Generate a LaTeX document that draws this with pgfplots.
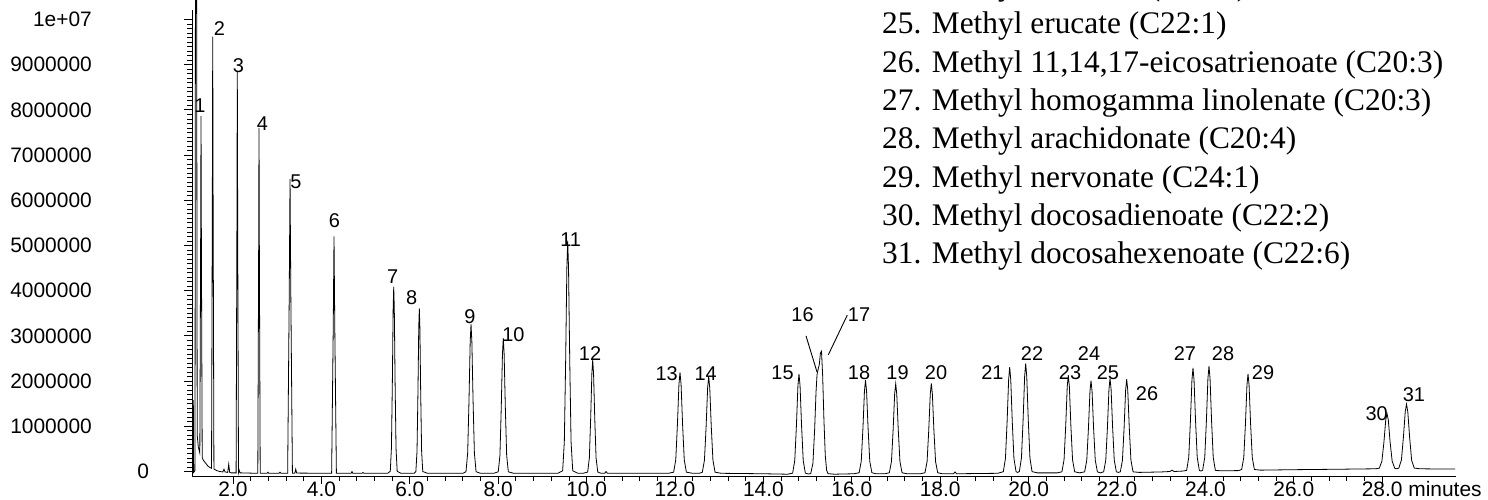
\documentclass[border=0pt]{standalone}
\usepackage{pgfplots}
\pgfplotsset{compat=1.18}
\usepackage{fontspec}
\setmainfont{Liberation Sans}
\newfontfamily\timesfont{Liberation Serif}
\newcommand\tickfont{\fontsize{21}{24}\selectfont}
\newcommand\tl[1]{\mbox{\tickfont #1}}
\newcommand\pkfont{\fontsize{20}{22}\selectfont}
\tikzset{pk/.style={font=\pkfont, inner sep=0pt}}

\begin{document}
\begin{tikzpicture}
\useasboundingbox (0,0) rectangle (1488bp,500bp);
\begin{axis}[
  at={(192bp,24bp)}, anchor=south west,
  scale only axis, width=1264bp, height=466bp,
  xmin=1.072, xmax=29.67,
  ymin=-0.0996, ymax=10.21,
  axis x line*=bottom, axis y line*=left,
  axis line style={line width=0.8bp},
  tick align=outside,
  major tick length=8bp, minor tick length=4.5bp,
  tick style={line width=0.8bp, black},
  xtick={2,4,...,28},
  minor x tick num=4,
  xticklabels={\tl{2.0},\tl{4.0},\tl{6.0},\tl{8.0},\tl{10.0},\tl{12.0},\tl{14.0},\tl{16.0},\tl{18.0},\tl{20.0},\tl{22.0},\tl{24.0},\tl{26.0},\tl{28.0\rlap{ minutes}}},
  ytick={0,1,...,10},
  minor y tick num=9,
  % intensity in millions of counts
  yticklabels={\makebox[0pt][l]{\hspace{46bp}\tl{0}},\tl{1000000},\tl{2000000},\tl{3000000},\tl{4000000},\tl{5000000},\tl{6000000},\tl{7000000},\tl{8000000},\tl{9000000},\tl{1e+07}},
  tick label style={font=\tickfont},
  xticklabel style={anchor=base, inner sep=0pt, yshift=-12.7bp},
  yticklabel style={anchor=east, inner sep=0pt, xshift=-92bp},
  clip=false,
]
\addplot[black, line width=0.8bp, mark=none] coordinates {
(1.075,-0.04)(1.095,-0.04)(1.102,1.58)(1.109,-0.02)(1.14,0.02)
(1.150,11.0)(1.176,11.0)(1.190,0.8)(1.215,0.54)(1.249,0.41)
(1.267,4.93)(1.276,7.86)(1.285,4.90)(1.303,0.31)
(1.328,0.25)(1.441,0.11)(1.514,0.07)
(1.532,5.87)(1.541,9.62)(1.550,5.86)(1.568,0.055)
(1.631,0.02)(1.70,0.0)(1.77,-0.01)(1.796,0.05)(1.82,-0.01)
(1.88,-0.02)(1.903,0.16)(1.925,-0.02)(1.96,-0.03)(2.07,-0.03)
(2.088,5.36)(2.097,8.85)(2.106,5.36)(2.124,-0.03)
(2.14,0.03)(2.16,-0.03)(2.561,-0.04)
(2.579,4.59)(2.588,7.60)(2.597,4.59)(2.615,-0.04)
(2.77,-0.04)(2.792,-0.015)(2.81,-0.04)(3.04,-0.04)(3.063,-0.015)(3.085,-0.04)(3.236,-0.04)
(3.272,3.91)(3.29,6.47)(3.308,3.91)(3.344,-0.04)
(3.40,-0.035)(3.419,0.05)(3.44,-0.035)(4.231,-0.04)
(4.267,3.14)(4.285,5.20)(4.303,3.14)(4.339,-0.04)
(4.67,-0.04)(4.692,0.0)(4.71,-0.04)(4.92,-0.04)(4.941,-0.02)(4.96,-0.04)(5.50,-0.04)
(5.558,0.005)(5.584,0.52)(5.605,1.97)(5.623,3.60)(5.636,4.09)(5.649,3.60)(5.667,1.97)(5.688,0.52)(5.714,0.005)
(5.80,-0.04)(6.10,-0.04)
(6.137,0.0)(6.163,0.45)(6.184,1.74)(6.202,3.18)(6.215,3.61)(6.228,3.18)(6.246,1.74)(6.267,0.45)(6.293,0.0)
(6.40,-0.04)(7.20,-0.04)
(7.271,-0.004)(7.309,0.41)(7.339,1.57)(7.366,2.87)(7.385,3.26)(7.404,2.87)(7.431,1.57)(7.461,0.41)(7.499,-0.004)
(7.60,-0.04)(7.90,-0.04)
(8.001,-0.007)(8.039,0.36)(8.069,1.42)(8.096,2.60)(8.115,2.95)(8.134,2.60)(8.161,1.42)(8.191,0.36)(8.229,-0.007)
(8.35,-0.04)(9.35,-0.04)
(9.458,0.017)(9.496,0.66)(9.526,2.47)(9.553,4.50)(9.572,5.11)(9.591,4.50)(9.618,2.47)(9.648,0.66)(9.686,0.017)
(9.80,-0.04)(9.92,-0.04)
(10.024,-0.012)(10.062,0.30)(10.092,1.18)(10.119,2.17)(10.138,2.47)(10.157,2.17)(10.184,1.18)(10.214,0.30)(10.252,-0.012)
(10.33,-0.04)(10.41,-0.04)(10.439,0.0)(10.47,-0.04)(11.85,-0.04)
(11.969,-0.015)(12.017,0.26)(12.055,1.05)(12.089,1.93)(12.113,2.19)(12.137,1.93)(12.171,1.05)(12.209,0.26)(12.257,-0.015)
(12.40,-0.04)(12.55,-0.04)
(12.618,-0.016)(12.666,0.25)(12.704,1.00)(12.738,1.85)(12.762,2.10)(12.786,1.85)(12.820,1.00)(12.858,0.25)(12.906,-0.016)
(13.05,-0.04)(14.0,-0.05)(14.55,-0.06)
(14.661,-0.036)(14.709,0.24)(14.747,1.02)(14.781,1.90)(14.805,2.16)(14.829,1.90)(14.863,1.02)(14.901,0.24)(14.949,-0.036)
(15.02,-0.055)
(15.07,-0.047)(15.12,0.18)(15.16,0.95)(15.19,1.75)(15.213,2.14)(15.24,2.27)(15.265,2.37)(15.29,2.62)(15.314,2.66)(15.34,2.13)(15.37,1.12)(15.40,0.35)(15.43,0.03)(15.46,-0.047)
(15.60,-0.06)(16.05,-0.05)
(16.166,-0.027)(16.214,0.23)(16.252,0.96)(16.286,1.78)(16.310,2.02)(16.334,1.78)(16.368,0.96)(16.406,0.23)(16.454,-0.027)
(16.55,-0.05)(16.75,-0.05)
(16.849,-0.028)(16.897,0.22)(16.935,0.92)(16.969,1.71)(16.993,1.94)(17.017,1.71)(17.051,0.92)(17.089,0.22)(17.137,-0.028)
(17.25,-0.05)(17.55,-0.05)
(17.655,-0.028)(17.703,0.22)(17.741,0.92)(17.775,1.71)(17.799,1.95)(17.823,1.71)(17.857,0.92)(17.895,0.22)(17.943,-0.028)
(18.05,-0.05)(18.30,-0.05)(18.335,-0.01)(18.37,-0.05)(19.3,-0.04)
(19.428,-0.004)(19.476,0.29)(19.514,1.11)(19.548,2.03)(19.572,2.31)(19.596,2.03)(19.630,1.11)(19.668,0.29)(19.716,-0.004)
(19.75,-0.02)
(19.790,-0.003)(19.838,0.30)(19.876,1.15)(19.910,2.10)(19.934,2.39)(19.958,2.10)(19.992,1.15)(20.030,0.30)(20.078,-0.003)
(20.2,-0.03)(20.65,-0.03)
(20.754,-0.006)(20.802,0.26)(20.840,1.02)(20.874,1.88)(20.898,2.13)(20.922,1.88)(20.956,1.02)(20.994,0.26)(21.042,-0.006)
(21.15,-0.03)
(21.268,-0.008)(21.316,0.25)(21.354,0.96)(21.388,1.77)(21.412,2.01)(21.436,1.77)(21.470,0.96)(21.508,0.25)(21.556,-0.008)
(21.62,-0.03)
(21.698,-0.007)(21.746,0.25)(21.784,0.99)(21.818,1.82)(21.842,2.06)(21.866,1.82)(21.900,0.99)(21.938,0.25)(21.986,-0.007)
(22.03,-0.02)
(22.075,-0.007)(22.123,0.25)(22.161,0.98)(22.195,1.80)(22.219,2.04)(22.243,1.80)(22.277,0.98)(22.315,0.25)(22.363,-0.007)
(22.5,-0.02)(23.0,-0.01)(23.2,0.0)(23.244,0.03)(23.29,0.0)(23.5,0.01)
(23.575,0.025)(23.623,0.31)(23.661,1.12)(23.695,2.02)(23.719,2.29)(23.743,2.02)(23.777,1.12)(23.815,0.31)(23.863,0.025)
(23.90,0.01)
(23.937,0.026)(23.985,0.31)(24.023,1.13)(24.057,2.06)(24.081,2.33)(24.105,2.06)(24.139,1.13)(24.177,0.31)(24.225,0.026)
(24.35,0.015)(24.75,0.02)
(24.820,0.044)(24.868,0.31)(24.906,1.06)(24.940,1.91)(24.964,2.16)(24.988,1.91)(25.022,1.06)(25.060,0.31)(25.108,0.044)
(25.25,0.03)(26.0,0.04)(27.0,0.05)(27.85,0.06)
(27.935,0.073)(27.993,0.23)(28.039,0.65)(28.080,1.14)(28.109,1.28)(28.138,1.14)(28.179,0.65)(28.225,0.23)(28.283,0.073)
(28.33,0.06)
(28.376,0.076)(28.434,0.25)(28.480,0.76)(28.521,1.32)(28.550,1.49)(28.579,1.32)(28.620,0.76)(28.666,0.25)(28.724,0.076)
(28.85,0.06)(29.3,0.055)(29.65,0.055)
};
% peak numbers
\node[pk] at (axis cs:1.253,8.09) {1};
\node[pk] at (axis cs:1.690,9.80) {2};
\node[pk] at (axis cs:2.120,8.97) {3};
\node[pk] at (axis cs:2.663,7.69) {4};
\node[pk] at (axis cs:3.425,6.41) {5};
\node[pk] at (axis cs:4.292,5.56) {6};
\node[pk] at (axis cs:5.613,4.31) {7};
\node[pk] at (axis cs:6.043,3.85) {8};
\node[pk] at (axis cs:7.362,3.42) {9};
\node[pk] at (axis cs:8.342,3.02) {10};
\node[pk] at (axis cs:9.640,5.14) {11};
\node[pk] at (axis cs:10.077,2.60) {12};
\node[pk] at (axis cs:11.812,2.17) {13};
\node[pk] at (axis cs:12.694,2.17) {14};
\node[pk] at (axis cs:14.432,2.18) {15};
\node[pk] at (axis cs:14.885,3.46) {16};
\node[pk] at (axis cs:16.163,3.46) {17};
\node[pk] at (axis cs:16.163,2.18) {18};
\node[pk] at (axis cs:17.034,2.18) {19};
\node[pk] at (axis cs:17.905,2.18) {20};
\node[pk] at (axis cs:19.183,2.18) {21};
\node[pk] at (axis cs:20.077,2.60) {22};
\node[pk] at (axis cs:20.937,2.18) {23};
\node[pk] at (axis cs:21.367,2.60) {24};
\node[pk] at (axis cs:21.796,2.18) {25};
\node[pk] at (axis cs:22.679,1.73) {26};
\node[pk] at (axis cs:23.538,2.60) {27};
\node[pk] at (axis cs:24.398,2.60) {28};
\node[pk] at (axis cs:25.303,2.18) {29};
\node[pk] at (axis cs:27.875,1.29) {30};
\node[pk] at (axis cs:28.719,1.71) {31};
\draw[line width=0.9bp] (axis cs:14.964,3.00) -- (axis cs:15.213,2.20);
\draw[line width=0.9bp] (axis cs:15.898,3.46) -- (axis cs:15.468,2.58);
\end{axis}
% peak key (upper right)
\begin{scope}[every node/.style={anchor=base west, inner sep=0pt, font=\timesfont\fontsize{31.5}{36}\selectfont}]
\node at (882bp,504.3bp) {24. Methyl behenate (C22:0)};
\node at (882bp,466.0bp) {25. Methyl erucate (C22:1)};
\node at (882bp,427.7bp) {26. Methyl 11,14,17-eicosatrienoate (C20:3)};
\node at (882bp,389.4bp) {27. Methyl homogamma linolenate (C20:3)};
\node at (882bp,351.1bp) {28. Methyl arachidonate (C20:4)};
\node at (882bp,312.8bp) {29. Methyl nervonate (C24:1)};
\node at (882bp,274.5bp) {30. Methyl docosadienoate (C22:2)};
\node at (882bp,236.2bp) {31. Methyl docosahexenoate (C22:6)};
\end{scope}
\end{tikzpicture}
\end{document}
